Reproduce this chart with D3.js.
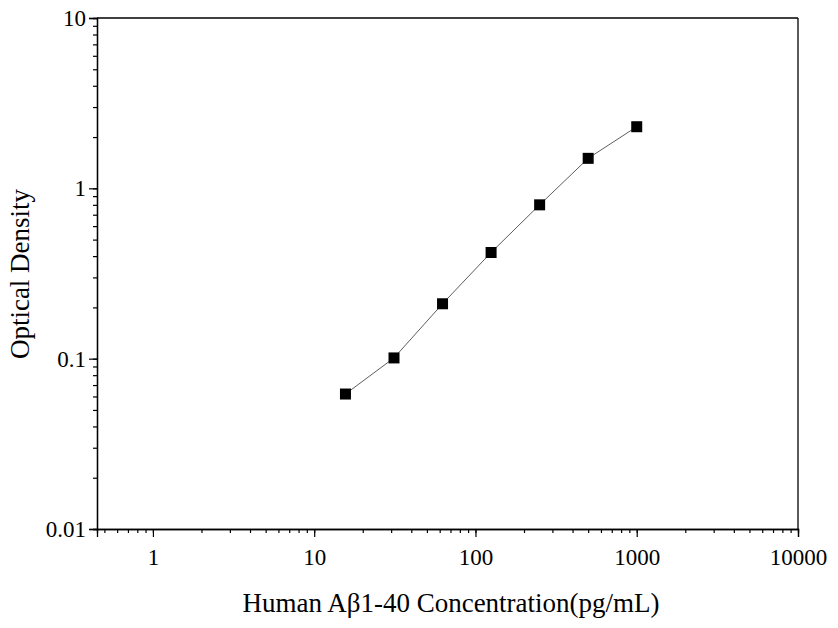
<!DOCTYPE html><html><head><script src="https://cdn.jsdelivr.net/npm/d3@7"></script>
<style>body{margin:0;background:#fff}text{font-family:"Liberation Serif","Times New Roman",serif}</style></head><body>
<svg id="c" width="838" height="628"></svg>
<script>
const conc=[15.625,31.25,62.5,125,250,500,1000];
const od=[0.062,0.101,0.21,0.42,0.80,1.50,2.30];
const xTicks=[1,10,100,1000,10000];
const yTicks=[0.01,0.1,1,10];
const svg=d3.select("#c");
const L=97,R=798,T=18,B=529;
const x=d3.scaleLog().domain([0.45,10000]).range([L,R]);
const y=d3.scaleLog().domain([0.01,10]).range([B,T]);
const minorX=[],minorY=[];
for(let e=-1;e<4;e++)for(let k=1;k<10;k++){const v=k*10**e;if(v>=0.45&&v<=10000)minorX.push(v);}
for(let e=-2;e<1;e++)for(let k=1;k<10;k++){minorY.push(k*10**e);}
const gx=svg.append("g").attr("transform",`translate(0,${B})`);
gx.call(d3.axisBottom(x).tickValues(minorX).tickSize(4).tickFormat(""));
gx.call(g=>g.append("g").call(d3.axisBottom(x).tickValues(xTicks).tickSize(8).tickFormat(d3.format("d"))));
const gy=svg.append("g").attr("transform",`translate(${L},0)`);
gy.call(d3.axisLeft(y).tickValues(minorY).tickSize(4).tickFormat(""));
gy.call(g=>g.append("g").call(d3.axisLeft(y).tickValues(yTicks).tickSize(8).tickFormat(d=>String(d))));
svg.selectAll(".domain").attr("stroke","#000").attr("stroke-width",1.3);
svg.selectAll(".tick line").attr("stroke","#000").attr("stroke-width",1.2);
svg.selectAll(".tick text").attr("font-size",23).attr("fill","#000").style("font-family","Liberation Serif");
gx.selectAll(".tick text").attr("dy","1.1em");
svg.append("line").attr("x1",L).attr("x2",R).attr("y1",T).attr("y2",T).attr("stroke","#000").attr("stroke-width",1.3);
svg.append("line").attr("x1",R).attr("x2",R).attr("y1",T).attr("y2",B).attr("stroke","#000").attr("stroke-width",1.3);
const pts=conc.map((c,i)=>[x(c),y(od[i])]);
svg.append("path").attr("d",d3.line()(pts)).attr("fill","none").attr("stroke","#333").attr("stroke-width",0.8);
svg.selectAll("rect.p").data(pts).join("rect").attr("x",d=>d[0]-5.5).attr("y",d=>d[1]-5.5).attr("width",11).attr("height",11).attr("fill","#000");
svg.append("text").attr("x",451).attr("y",612).attr("text-anchor","middle").attr("font-size",27).text("Human Aβ1-40 Concentration(pg/mL)");
svg.append("text").attr("transform",`translate(29,274) rotate(-90)`).attr("text-anchor","middle").attr("font-size",27).text("Optical Density");
</script></body></html>
